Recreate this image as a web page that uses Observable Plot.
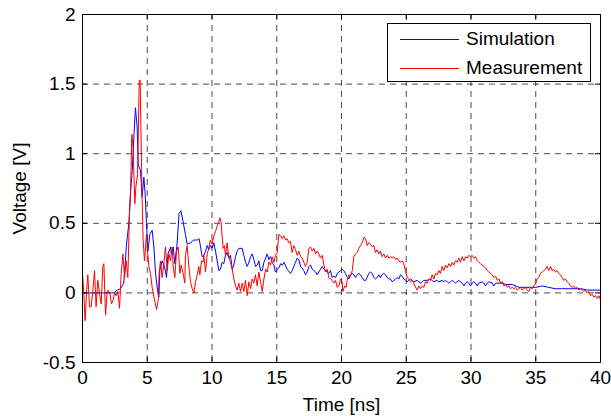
<!DOCTYPE html>
<html>
<head>
<meta charset="utf-8">
<script src="https://cdn.jsdelivr.net/npm/d3@7"></script>
<script src="https://cdn.jsdelivr.net/npm/@observablehq/plot@0.6"></script>
<style>
  html, body { margin: 0; padding: 0; background: #fff; }
  #wrap { position: relative; width: 611px; height: 416px; font-family: "Liberation Sans", Arial, Helvetica, sans-serif; }
  #legend { position: absolute; left: 387px; top: 23px; width: 204px; height: 59px; border: 1px solid #000; background: #fff; box-sizing: border-box; }
  .row { position: absolute; left: 0; height: 24px; display: flex; align-items: center; font-size: 19px; color: #000; }
  .sw { display: inline-block; width: 59px; height: 1px; margin-left: 12px; margin-right: 7px; }
</style>
</head>
<body>
<div id="wrap"></div>
<script>
// Simulation series (time in ns, voltage in V)
const simT = [0,2.42,2.68,2.93,3.19,3.4,3.58,3.7,3.84,3.96,4.09,4.22,4.3,4.48,4.6,4.74,4.84,4.94,5.05,5.2,5.38,5.51,5.64,5.82,5.9,5.97,6.15,6.33,6.49,6.6,6.8,6.86,7.0,7.13,7.3,7.46,7.6,7.75,7.95,8.08,8.34,8.6,8.86,9.0,9.1,9.24,9.37,9.5,9.63,9.75,9.88,10.01,10.14,10.27,10.4,10.53,10.66,10.78,10.91,11.04,11.17,11.3,11.43,11.56,11.69,11.82,11.94,12.07,12.33,12.46,12.59,12.72,12.85,12.98,13.1,13.23,13.36,13.49,13.62,13.75,13.88,14.01,14.14,14.26,14.39,14.52,14.65,14.78,14.9,15.04,15.17,15.3,15.43,15.56,15.8,16.06,16.19,16.32,16.45,16.58,16.71,16.84,16.96,17.09,17.22,17.35,17.48,17.61,17.74,17.87,18.0,18.12,18.25,18.38,18.51,18.64,18.77,18.9,19.02,19.15,19.28,19.41,19.54,19.67,19.8,19.93,20.05,20.18,20.3,20.44,20.57,20.7,20.83,20.96,21.08,21.21,21.34,21.47,21.6,21.73,21.86,21.98,22.1,22.24,22.37,22.5,22.62,22.75,22.88,23.0,23.14,23.27,23.4,23.53,23.66,23.78,23.91,24.04,24.17,24.3,24.43,24.56,24.69,24.81,24.94,25.07,25.2,25.33,25.46,25.58,25.84,25.97,26.1,26.23,26.36,26.62,26.87,27.0,27.13,27.39,27.52,27.77,27.9,28.03,28.16,28.29,28.42,28.55,28.68,28.8,28.93,29.06,29.19,29.32,29.45,29.58,29.7,29.83,29.96,30.09,30.22,30.35,30.48,30.61,30.86,30.99,31.12,31.25,31.38,31.64,31.76,31.9,32.4,32.7,33.2,33.7,34.2,34.5,35.0,35.5,36.0,36.5,37.0,37.8,38.5,39.0,39.5,40];
const simV = [0,0,0.02,0.03,0.07,0.35,0.5,0.71,0.88,1.11,1.33,1.19,0.92,0.88,0.69,0.83,0.71,0.5,0.3,0.42,0.45,0.33,0.14,0,-0.03,0.16,0.23,0.19,0.11,0.28,0.33,0.28,0.33,0.21,0.35,0.57,0.59,0.52,0.42,0.35,0.36,0.38,0.38,0.39,0.34,0.26,0.27,0.3,0.34,0.31,0.34,0.32,0.36,0.3,0.23,0.16,0.17,0.22,0.21,0.27,0.29,0.25,0.27,0.17,0.2,0.26,0.3,0.32,0.32,0.27,0.22,0.19,0.22,0.26,0.28,0.24,0.19,0.2,0.23,0.16,0.16,0.22,0.25,0.28,0.24,0.26,0.22,0.2,0.15,0.17,0.18,0.21,0.2,0.22,0.17,0.14,0.16,0.19,0.22,0.25,0.24,0.19,0.18,0.16,0.13,0.15,0.19,0.2,0.17,0.16,0.15,0.13,0.15,0.17,0.19,0.17,0.16,0.15,0.14,0.16,0.11,0.12,0.11,0.14,0.15,0.16,0.17,0.16,0.14,0.11,0.1,0.13,0.14,0.13,0.11,0.13,0.14,0.13,0.11,0.09,0.09,0.11,0.14,0.15,0.14,0.11,0.1,0.11,0.13,0.11,0.13,0.14,0.13,0.11,0.1,0.1,0.08,0.09,0.1,0.11,0.1,0.13,0.12,0.1,0.09,0.08,0.09,0.1,0.09,0.08,0.09,0.08,0.07,0.08,0.09,0.09,0.1,0.09,0.08,0.09,0.08,0.09,0.08,0.09,0.08,0.07,0.08,0.09,0.08,0.07,0.08,0.09,0.08,0.07,0.05,0.07,0.08,0.07,0.05,0.07,0.08,0.07,0.05,0.07,0.08,0.07,0.05,0.07,0.08,0.07,0.05,0.07,0.07,0.06,0.06,0.04,0.04,0.04,0.04,0.05,0.04,0.03,0.03,0.03,0.03,0.02,0.02,0.02];

// Measurement series (time in ns, voltage in V)
const measT = [0,0.1,0.2,0.31,0.41,0.54,0.67,0.8,0.93,1.05,1.18,1.31,1.44,1.57,1.65,1.78,1.9,1.98,2.11,2.24,2.37,2.47,2.6,2.73,2.86,2.99,3.12,3.25,3.37,3.5,3.63,3.7,3.81,3.91,4.04,4.12,4.25,4.38,4.45,4.53,4.6,4.68,4.79,4.94,5.04,5.12,5.25,5.38,5.56,5.72,5.85,5.92,6.02,6.15,6.28,6.41,6.54,6.67,6.8,6.93,7.0,7.13,7.26,7.39,7.52,7.62,7.75,7.9,7.95,8.08,8.21,8.34,8.47,8.6,8.73,8.86,8.98,9.06,9.19,9.3,9.37,9.5,9.63,9.75,9.88,10.01,10.14,10.27,10.4,10.53,10.6,10.7,10.78,10.86,10.96,11.04,11.17,11.3,11.43,11.56,11.69,11.82,11.94,12.07,12.2,12.33,12.46,12.59,12.72,12.85,12.98,13.1,13.23,13.36,13.49,13.62,13.75,13.88,14.01,14.14,14.26,14.39,14.52,14.65,14.78,14.9,15.04,15.16,15.3,15.43,15.56,15.68,15.8,15.93,16.06,16.19,16.32,16.45,16.58,16.71,16.84,16.96,17.09,17.22,17.35,17.48,17.61,17.74,17.87,18.0,18.12,18.25,18.38,18.51,18.64,18.77,18.9,19.02,19.15,19.28,19.41,19.54,19.67,19.8,19.93,20.05,20.1,20.25,20.36,20.44,20.57,20.7,20.83,20.95,21.08,21.21,21.34,21.47,21.6,21.73,21.86,21.98,22.1,22.24,22.37,22.5,22.62,22.75,22.88,23.0,23.14,23.27,23.4,23.53,23.66,23.78,23.91,24.04,24.17,24.3,24.43,24.56,24.69,24.81,24.94,25.07,25.2,25.33,25.46,25.58,25.71,25.84,25.97,26.1,26.23,26.36,26.49,26.62,26.75,26.87,27.0,27.13,27.26,27.39,27.52,27.64,27.77,27.9,28.03,28.16,28.29,28.42,28.55,28.68,28.8,28.93,29.06,29.19,29.32,29.45,29.58,29.7,29.83,29.96,30.09,30.22,30.35,30.48,30.61,30.73,30.86,30.99,31.12,31.25,31.38,31.51,31.64,31.76,31.9,32.03,32.16,32.29,32.41,32.54,32.67,32.8,32.93,33.05,33.18,33.31,33.44,33.57,33.7,33.83,33.95,34.08,34.21,34.34,34.47,34.6,34.73,34.85,35.0,35.11,35.24,35.36,35.49,35.62,35.75,35.88,36.0,36.14,36.26,36.39,36.52,36.65,36.78,36.91,37.04,37.17,37.3,37.42,37.55,37.68,37.81,37.94,38.07,38.2,38.33,38.46,38.59,38.71,38.84,38.97,39.1,39.23,39.36,39.49,39.62,39.75,39.88,40];
const measV = [0.14,0,-0.2,0,0.13,-0.1,-0.1,0.02,0.16,-0.1,0.09,0,-0.08,0.19,0.21,-0.16,0,0.02,0,-0.08,-0.05,0,-0.02,0.01,-0.11,0.14,0.28,0.11,0.23,0.11,0.57,0.69,1.14,1.04,0.64,0.76,0.85,1.52,1.53,1.07,0.69,0.38,0.23,0.42,0.28,0.19,0.14,0.04,-0.05,-0.12,-0.05,0.14,0.23,0.11,0.21,0.33,0.16,0.28,0.23,0.33,0.19,0.11,0.3,0.33,0.14,0.2,0.15,0.07,0.27,0.34,0.19,0.08,0.03,0,0.08,0.13,0.19,0.13,0.23,0.22,0.27,0.15,0.28,0.32,0.38,0.35,0.41,0.44,0.48,0.51,0.54,0.51,0.41,0.32,0.34,0.27,0.36,0.25,0.22,0.17,0.1,0.05,0.02,0.07,0.01,0.07,0.01,0.09,-0.02,0.08,0.03,0.1,0.07,0.13,0.05,0.15,0.08,0.01,0.1,0.17,0.15,0.22,0.2,0.26,0.22,0.27,0.29,0.42,0.41,0.39,0.41,0.38,0.39,0.36,0.37,0.29,0.34,0.31,0.27,0.3,0.26,0.25,0.22,0.19,0.22,0.32,0.33,0.3,0.32,0.28,0.3,0.28,0.25,0.27,0.2,0.15,0.17,0.11,0.1,0.09,0.07,0.09,0.04,0.05,0.1,0.08,0.01,0.05,0.04,0.09,0.13,0.12,0.16,0.26,0.28,0.29,0.32,0.34,0.36,0.4,0.39,0.34,0.36,0.35,0.33,0.34,0.29,0.31,0.28,0.3,0.26,0.28,0.25,0.27,0.25,0.26,0.25,0.26,0.24,0.25,0.23,0.22,0.23,0.21,0.16,0.11,0.1,0.08,0.09,0.07,0.04,0.02,0.05,0.03,0.05,0.04,0.08,0.07,0.1,0.09,0.13,0.1,0.14,0.13,0.16,0.14,0.19,0.16,0.2,0.18,0.21,0.19,0.22,0.2,0.23,0.22,0.25,0.22,0.26,0.23,0.26,0.25,0.27,0.26,0.27,0.25,0.26,0.23,0.22,0.21,0.2,0.19,0.18,0.16,0.15,0.14,0.13,0.11,0.12,0.09,0.1,0.07,0.08,0.05,0.06,0.04,0.05,0.03,0.04,0.03,0.04,0.02,0.03,0.04,0.02,0.03,0.04,0.02,0.01,0.04,0.03,0.05,0.07,0.1,0.11,0.14,0.15,0.16,0.17,0.19,0.16,0.19,0.16,0.17,0.15,0.16,0.14,0.13,0.11,0.09,0.1,0.08,0.07,0.05,0.04,0.05,0.03,0.04,0.02,0.03,0.02,0.01,0.02,0,0.01,-0.02,-0.01,-0.03,-0.02,-0.04,-0.02,-0.05];

const xTicks = [0, 5, 10, 15, 20, 25, 30, 35, 40];
const yTicks = [-0.5, 0, 0.5, 1, 1.5, 2];
const seriesNames = ["Simulation", "Measurement"];
const seriesColors = ["#0000ff", "#ff0000"];

const sim = simT.map((t, i) => ({t, v: simV[i]}));
const meas = measT.map((t, i) => ({t, v: measV[i]}));

const xDom = [xTicks[0], xTicks[xTicks.length - 1]];
const yDom = [yTicks[0], yTicks[yTicks.length - 1]];
const W = 611, H = 416, mL = 82, mR = 11, mT = 14, mB = 54;
const tkY = (yDom[1] - yDom[0]) * 5 / (H - mT - mB);
const tkX = (xDom[1] - xDom[0]) * 5 / (W - mL - mR);

const grid = {stroke: "#000", strokeOpacity: 0.7, strokeDasharray: "6,5", strokeWidth: 1};

const chart = Plot.plot({
  width: W, height: H,
  marginLeft: mL, marginRight: mR, marginTop: mT, marginBottom: mB,
  x: {domain: xDom},
  y: {domain: yDom},
  style: {fontFamily: "'Liberation Sans', Arial, Helvetica, sans-serif", fontSize: "19px", color: "#000", background: "#fff", overflow: "visible"},
  marks: [
    Plot.ruleX(xTicks.slice(1, -1), grid),
    Plot.ruleY(yTicks.slice(1, -1), grid),
    Plot.line(sim, {x: "t", y: "v", stroke: seriesColors[0], strokeWidth: 1}),
    Plot.line(meas, {x: "t", y: "v", stroke: seriesColors[1], strokeWidth: 1}),
    Plot.ruleX(xTicks, {x: d => d, y1: yDom[0], y2: yDom[0] + tkY, stroke: "#000"}),
    Plot.ruleX(xTicks, {x: d => d, y1: yDom[1], y2: yDom[1] - tkY, stroke: "#000"}),
    Plot.ruleY(yTicks, {y: d => d, x1: xDom[0], x2: xDom[0] + tkX, stroke: "#000"}),
    Plot.ruleY(yTicks, {y: d => d, x1: xDom[1], x2: xDom[1] - tkX, stroke: "#000"}),
    Plot.frame({stroke: "#000", strokeWidth: 1}),
    Plot.axisX(xTicks, {tickSize: 0, tickPadding: 8, tickFormat: d => String(d), label: "Time [ns]", labelAnchor: "center", labelArrow: "none", labelOffset: 48}),
    Plot.axisY(yTicks, {tickSize: 0, tickPadding: 7, tickFormat: d => String(d), label: "Voltage [V]", labelAnchor: "center", labelArrow: "none", labelOffset: 70})
  ]
});

const wrap = document.getElementById("wrap");
wrap.appendChild(chart);

const legend = document.createElement("div");
legend.id = "legend";
seriesNames.forEach((name, i) => {
  const row = document.createElement("div");
  row.className = "row";
  row.style.top = (3 + i * 29) + "px";
  const sw = document.createElement("span");
  sw.className = "sw";
  sw.style.background = seriesColors[i];
  const lab = document.createElement("span");
  lab.textContent = name;
  row.appendChild(sw);
  row.appendChild(lab);
  legend.appendChild(row);
});
wrap.appendChild(legend);
</script>
</body>
</html>
